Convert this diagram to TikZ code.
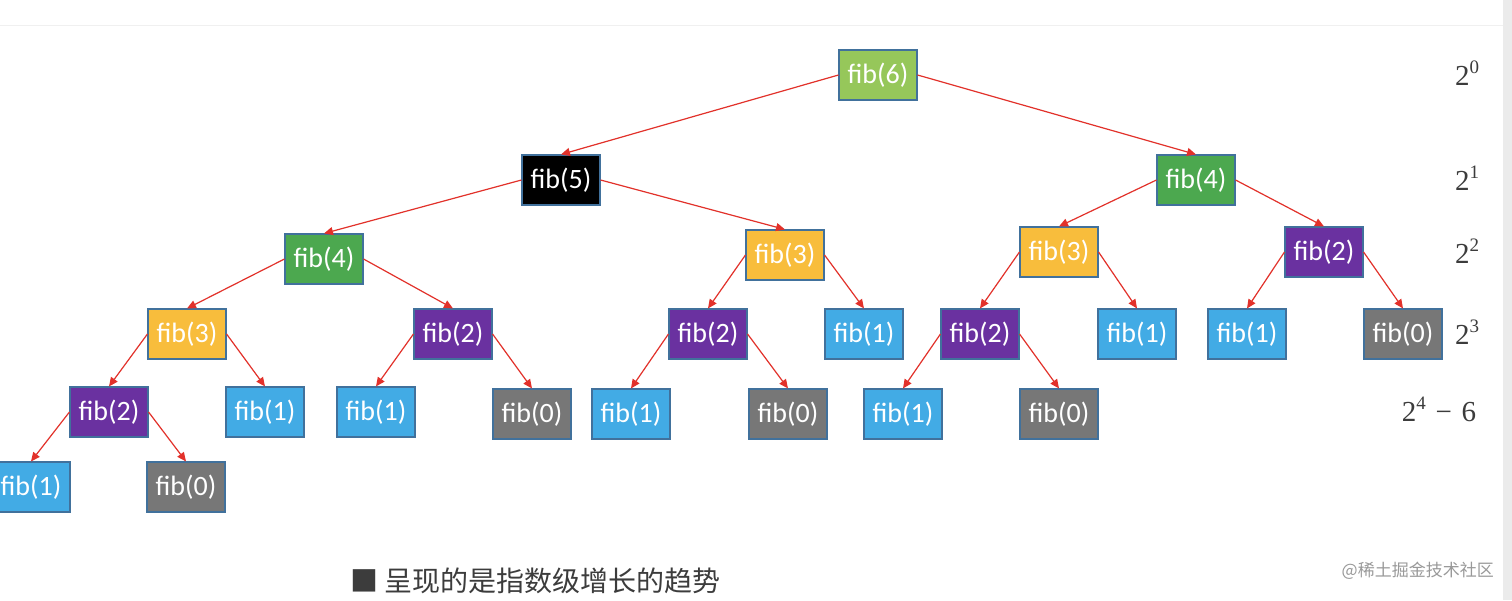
\documentclass[tikz,border=0pt]{standalone}
\usepackage{fontspec}
\setmainfont{Carlito}
\newfontfamily\cjk{Noto Sans CJK SC}
\newfontfamily\serifnum{Liberation Serif}
\usetikzlibrary{arrows.meta}
\definecolor{bordc}{HTML}{41719C}
\definecolor{c6}{HTML}{96C75A}
\definecolor{c5}{HTML}{000000}
\definecolor{c4}{HTML}{4CA84F}
\definecolor{c3}{HTML}{F8BD3C}
\definecolor{c2}{HTML}{6A31A0}
\definecolor{c1}{HTML}{42ABE5}
\definecolor{c0}{HTML}{777777}
\definecolor{arr}{HTML}{E2312A}
\definecolor{lab}{HTML}{3C3C3C}
\newcommand{\pw}[2]{2\raisebox{0.42em}{\fontsize{19}{20}\selectfont #1}#2}
\tikzset{
  fbox/.style={draw=bordc, line width=1.1pt, minimum width=78pt, minimum height=50pt,
    inner sep=0pt, text=white, font=\fontsize{28}{32}\selectfont},
  f6/.style={fbox, fill=c6},
  f5/.style={fbox, fill=c5},
  f4/.style={fbox, fill=c4},
  f3/.style={fbox, fill=c3},
  f2/.style={fbox, fill=c2},
  f1/.style={fbox, fill=c1},
  f0/.style={fbox, fill=c0},
  call/.style={draw=arr, line width=1.2pt, -{Triangle[length=9pt,width=8pt]}},
  powlab/.style={text=lab, font=\serifnum\fontsize{29}{32}\selectfont, inner sep=0pt}
}
\begin{document}
\begin{tikzpicture}[x=1pt,y=-1pt]
\useasboundingbox (0,0) rectangle (1512,600);
\fill[white] (0,0) rectangle (1512,600);
\fill[black!8] (1503,0) rectangle (1512,600);
\draw[black!6, line width=1pt] (0,25) -- (1503,25);
% level 0
\node[f6] (n6) at (878,75) {fib(6)};
% level 1
\node[f5] (n5) at (561,180) {fib(5)};
\node[f4] (r4) at (1196,180) {fib(4)};
% level 2
\node[f4] (l4) at (324,259) {fib(4)};
\node[f3] (m3) at (785,255) {fib(3)};
\node[f3] (r3) at (1059,252) {fib(3)};
\node[f2] (r2) at (1324,252) {fib(2)};
% level 3
\node[f3] (l3) at (187,334) {fib(3)};
\node[f2] (l2) at (453,334) {fib(2)};
\node[f2] (m2) at (708,334) {fib(2)};
\node[f1] (m1) at (864,334) {fib(1)};
\node[f2] (q2) at (980,334) {fib(2)};
\node[f1] (q1) at (1137,334) {fib(1)};
\node[f1] (s1) at (1247,334) {fib(1)};
\node[f0] (s0) at (1403,334) {fib(0)};
% level 4
\node[f2] (a2) at (109,412) {fib(2)};
\node[f1] (a1) at (265,412) {fib(1)};
\node[f1] (b1) at (376,412) {fib(1)};
\node[f0] (b0) at (532,414) {fib(0)};
\node[f1] (c1n) at (631,414) {fib(1)};
\node[f0] (c0n) at (788,414) {fib(0)};
\node[f1] (d1) at (903,414) {fib(1)};
\node[f0] (d0) at (1059,414) {fib(0)};
% level 5
\node[f1] (e1) at (31,487) {fib(1)};
\node[f0] (e0) at (186,487) {fib(0)};
% edges
\draw[call] (n6.west) -- (n5.north);
\draw[call] (n6.east) -- (r4.north);
\draw[call] (n5.west) -- (l4.north);
\draw[call] (n5.east) -- (m3.north);
\draw[call] (r4.west) -- (r3.north);
\draw[call] (r4.east) -- (r2.north);
\draw[call] (l4.west) -- (l3.north);
\draw[call] (l4.east) -- (l2.north);
\draw[call] (m3.west) -- (m2.north);
\draw[call] (m3.east) -- (m1.north);
\draw[call] (r3.west) -- (q2.north);
\draw[call] (r3.east) -- (q1.north);
\draw[call] (r2.west) -- (s1.north);
\draw[call] (r2.east) -- (s0.north);
\draw[call] (l3.west) -- (a2.north);
\draw[call] (l3.east) -- (a1.north);
\draw[call] (l2.west) -- (b1.north);
\draw[call] (l2.east) -- (b0.north);
\draw[call] (m2.west) -- (c1n.north);
\draw[call] (m2.east) -- (c0n.north);
\draw[call] (q2.west) -- (d1.north);
\draw[call] (q2.east) -- (d0.north);
\draw[call] (a2.west) -- (e1.north);
\draw[call] (a2.east) -- (e0.north);
% power labels
\node[powlab] (p0) at (1467,73) {\pw{0}{}};
\node[powlab] (p1) at (1467,178) {\pw{1}{}};
\node[powlab] (p2) at (1467,251) {\pw{2}{}};
\node[powlab] (p3) at (1467,332) {\pw{3}{}};
\node[powlab] (p4) at (1439,409) {\pw{4}{\,\,−\,\,6}};
% bottom text
\node[anchor=west, inner sep=0pt, text=lab, font=\cjk\fontsize{28}{32}\selectfont] (note) at (350,581) {■ 呈现的是指数级增长的趋势};
\node[anchor=east, inner sep=0pt, text=black!40, font=\cjk\fontsize{17}{20}\selectfont] (wm) at (1494,571) {@稀土掘金技术社区};
\end{tikzpicture}
\end{document}
